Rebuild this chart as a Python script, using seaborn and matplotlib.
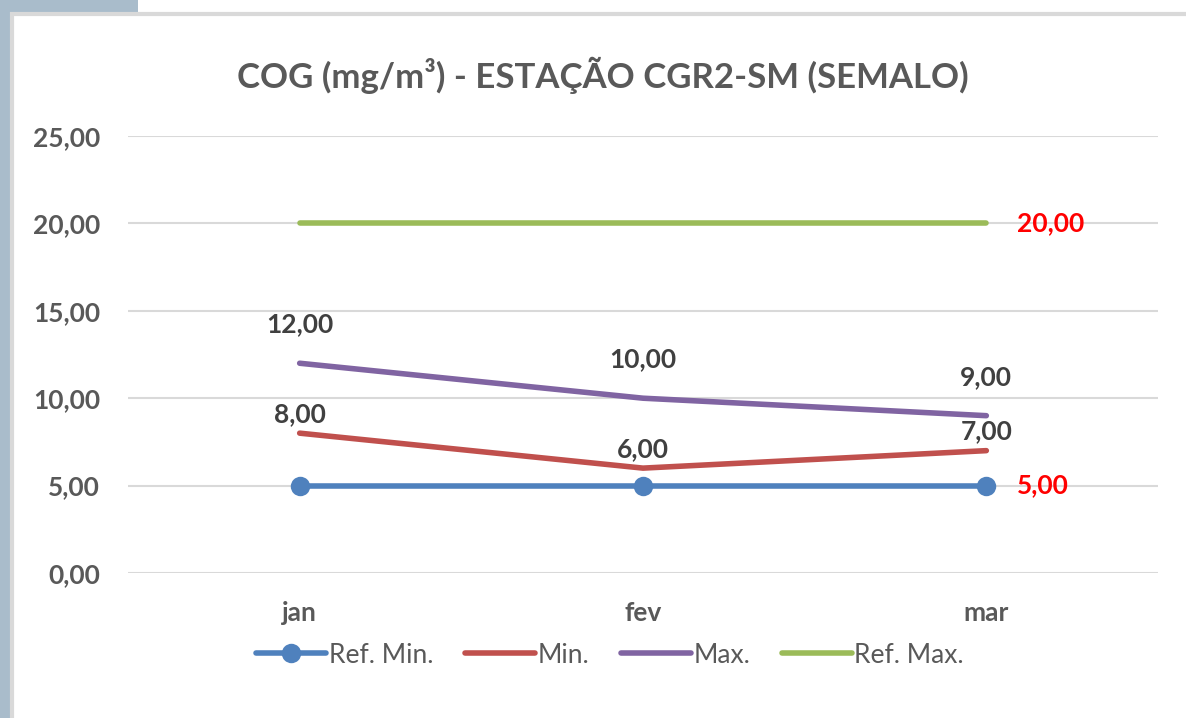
import pandas as pd
import matplotlib.pyplot as plt
import seaborn as sns
from matplotlib.patches import Rectangle

# Dados
meses = ['jan', 'fev', 'mar']
ref_min = [5.0, 5.0, 5.0]
minimo = [8.0, 6.0, 7.0]
maximo = [12.0, 10.0, 9.0]
ref_max = [20.0, 20.0, 20.0]
y_ticks = [0, 5, 10, 15, 20, 25]

series = [
    ('Ref. Min.', ref_min, '#4F81BD'),
    ('Min.', minimo, '#C0504D'),
    ('Max.', maximo, '#8064A2'),
    ('Ref. Max.', ref_max, '#9BBB59'),
]

sns.set_style('white')
plt.rcParams['font.family'] = ['Lato', 'DejaVu Sans']


def fmt(v):
    return f'{v:.2f}'.replace('.', ',')


fig = plt.figure(figsize=(11.86, 7.18), dpi=100)
fig.patch.set_facecolor('white')

# fundo da captura (faixa azul-acinzentada à esquerda) e moldura do gráfico
fig.add_artist(Rectangle((0, 0), 12 / 1186, 1, transform=fig.transFigure,
                         facecolor='#A9BCCB', edgecolor='none', zorder=-3))
fig.add_artist(Rectangle((0, 1 - 14 / 718), 138 / 1186, 14 / 718, transform=fig.transFigure,
                         facecolor='#A9BCCB', edgecolor='none', zorder=-3))
fig.add_artist(Rectangle((12 / 1186, -0.1), 1.2, 1.1 - 14 / 718, transform=fig.transFigure,
                         facecolor='white', edgecolor='#D9D9D9', linewidth=3, zorder=-2))

ax = fig.add_axes([128 / 1186, 1 - 573 / 718, 1030 / 1186, 437 / 718])
ax.set_facecolor('none')

df = pd.DataFrame({'mes': meses})
for nome, vals, cor in series:
    df[nome] = vals

for nome, vals, cor in series:
    sns.lineplot(data=df, x='mes', y=nome, ax=ax, color=cor, linewidth=4,
                 marker='o' if nome == 'Ref. Min.' else None, markersize=14,
                 markeredgewidth=0, solid_capstyle='round', label=nome, zorder=3)

# rótulos de dados
offsets = {'Min.': 14, 'Max.': 28}
for nome, vals, cor in series:
    if nome in offsets:
        for i, v in enumerate(vals):
            ax.annotate(fmt(v), (i, v), xytext=(0, offsets[nome]), textcoords='offset points',
                        ha='center', va='center', fontsize=19, fontweight='bold', color='#404040')

for vals in (ref_max, ref_min):
    ax.annotate(fmt(vals[-1]), (len(meses) - 1, vals[-1]), xytext=(22, 0),
                textcoords='offset points', ha='left', va='center',
                fontsize=19, fontweight='bold', color='#FF0000')

ax.set_xlim(-0.5, 2.5)
ax.set_ylim(0, 25)
ax.set_yticks(y_ticks)
ax.set_yticklabels([fmt(v) for v in y_ticks])
ax.grid(axis='y', color='#D9D9D9', linewidth=1.5)
ax.set_axisbelow(True)
for s in ax.spines.values():
    s.set_visible(False)
ax.tick_params(axis='both', length=0, labelsize=19, colors='#595959')
ax.tick_params(axis='y', pad=20)
ax.tick_params(axis='x', pad=20)
for lbl in ax.get_xticklabels() + ax.get_yticklabels():
    lbl.set_fontweight('bold')
ax.set_xlabel('')
ax.set_ylabel('')

fig.text(603 / 1186, 1 - 75 / 718, 'COG (mg/m³) - ESTAÇÃO CGR2-SM (SEMALO)',
         ha='center', va='center', fontsize=25, fontweight='bold', color='#595959')

leg = ax.legend(loc='center', bbox_to_anchor=(0.468, -0.188), ncol=4, frameon=False,
                fontsize=19, handlelength=2.65, handletextpad=0.1, columnspacing=1.2,
                labelcolor='#595959')

fig.savefig('out.png', dpi=100)
